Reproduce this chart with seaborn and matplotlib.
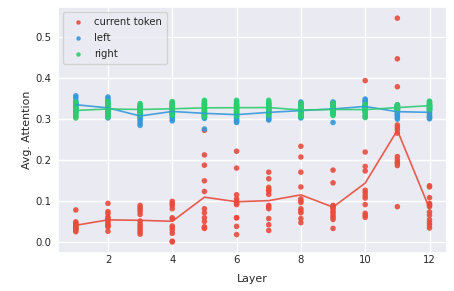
import pandas as pd
import matplotlib
matplotlib.use("Agg")
import matplotlib.pyplot as plt
import seaborn as sns

layers = list(range(1, 13))

current_token = [
    [0.079, 0.050, 0.047, 0.045, 0.043, 0.040, 0.038, 0.036, 0.034, 0.032, 0.030, 0.026],
    [0.095, 0.075, 0.070, 0.062, 0.058, 0.055, 0.050, 0.046, 0.042, 0.040, 0.038, 0.027],
    [0.090, 0.085, 0.080, 0.075, 0.068, 0.052, 0.045, 0.040, 0.035, 0.030, 0.025, 0.020],
    [0.100, 0.095, 0.090, 0.082, 0.060, 0.057, 0.040, 0.036, 0.030, 0.022, 0.003, 0.001],
    [0.273, 0.213, 0.188, 0.150, 0.124, 0.082, 0.072, 0.060, 0.051, 0.038, 0.036, 0.034],
    [0.222, 0.181, 0.116, 0.106, 0.101, 0.097, 0.095, 0.092, 0.060, 0.060, 0.039, 0.019],
    [0.171, 0.155, 0.134, 0.129, 0.125, 0.117, 0.090, 0.087, 0.082, 0.058, 0.043, 0.029],
    [0.234, 0.208, 0.171, 0.135, 0.106, 0.101, 0.097, 0.082, 0.077, 0.072, 0.058, 0.048],
    [0.176, 0.145, 0.090, 0.088, 0.085, 0.082, 0.076, 0.072, 0.066, 0.061, 0.056, 0.034],
    [0.394, 0.220, 0.185, 0.174, 0.127, 0.121, 0.114, 0.108, 0.092, 0.071, 0.066, 0.061],
    [0.546, 0.447, 0.379, 0.286, 0.280, 0.274, 0.266, 0.209, 0.201, 0.195, 0.193, 0.187, 0.087],
    [0.138, 0.135, 0.109, 0.095, 0.092, 0.090, 0.087, 0.074, 0.066, 0.055, 0.048, 0.042, 0.035],
]

left = [
    [0.357, 0.352, 0.345, 0.340, 0.338, 0.335, 0.333, 0.330, 0.328, 0.325, 0.322, 0.318],
    [0.354, 0.350, 0.345, 0.338, 0.332, 0.328, 0.325, 0.320, 0.316, 0.312, 0.308, 0.303],
    [0.330, 0.325, 0.320, 0.316, 0.312, 0.310, 0.307, 0.304, 0.300, 0.296, 0.290, 0.285],
    [0.340, 0.336, 0.332, 0.328, 0.325, 0.322, 0.318, 0.314, 0.310, 0.305, 0.300, 0.296],
    [0.338, 0.334, 0.328, 0.324, 0.320, 0.316, 0.312, 0.310, 0.307, 0.304, 0.302, 0.276],
    [0.335, 0.330, 0.325, 0.320, 0.316, 0.312, 0.308, 0.304, 0.300, 0.297, 0.294, 0.292],
    [0.338, 0.334, 0.330, 0.326, 0.322, 0.318, 0.314, 0.310, 0.306, 0.303, 0.300, 0.298],
    [0.342, 0.338, 0.334, 0.330, 0.326, 0.322, 0.318, 0.314, 0.311, 0.308, 0.305, 0.303],
    [0.342, 0.340, 0.337, 0.334, 0.331, 0.328, 0.325, 0.322, 0.319, 0.316, 0.313, 0.292],
    [0.349, 0.346, 0.343, 0.340, 0.336, 0.333, 0.330, 0.327, 0.324, 0.321, 0.318, 0.306],
    [0.335, 0.332, 0.329, 0.326, 0.323, 0.320, 0.317, 0.314, 0.311, 0.308, 0.304, 0.300],
    [0.334, 0.331, 0.328, 0.325, 0.322, 0.318, 0.315, 0.311, 0.308, 0.305, 0.303, 0.301],
]

right = [
    [0.342, 0.338, 0.334, 0.330, 0.326, 0.322, 0.318, 0.315, 0.312, 0.309, 0.306, 0.303],
    [0.343, 0.340, 0.337, 0.334, 0.330, 0.327, 0.324, 0.320, 0.317, 0.313, 0.309, 0.305],
    [0.338, 0.335, 0.332, 0.330, 0.327, 0.325, 0.322, 0.320, 0.318, 0.315, 0.312, 0.310],
    [0.343, 0.340, 0.336, 0.333, 0.330, 0.326, 0.323, 0.320, 0.317, 0.314, 0.312, 0.310],
    [0.346, 0.343, 0.340, 0.337, 0.334, 0.330, 0.327, 0.323, 0.319, 0.315, 0.311, 0.306],
    [0.346, 0.343, 0.340, 0.337, 0.334, 0.330, 0.327, 0.324, 0.320, 0.316, 0.312, 0.307],
    [0.346, 0.342, 0.339, 0.336, 0.333, 0.330, 0.327, 0.324, 0.321, 0.318, 0.314, 0.310],
    [0.339, 0.336, 0.333, 0.330, 0.327, 0.324, 0.321, 0.318, 0.315, 0.312, 0.309, 0.306],
    [0.339, 0.336, 0.334, 0.331, 0.328, 0.325, 0.322, 0.319, 0.316, 0.314, 0.311, 0.309],
    [0.336, 0.334, 0.332, 0.330, 0.328, 0.326, 0.324, 0.322, 0.319, 0.315, 0.310, 0.304],
    [0.335, 0.334, 0.333, 0.332, 0.330, 0.329, 0.327, 0.326, 0.325, 0.324, 0.323, 0.322],
    [0.344, 0.342, 0.340, 0.338, 0.336, 0.334, 0.332, 0.330, 0.328, 0.326, 0.324, 0.322],
]

series = {"current token": current_token, "left": left, "right": right}
colors = {"current token": "#e74c3c", "left": "#3498db", "right": "#2ecc71"}


def to_frame(series):
    rows = []
    for name, per_layer in series.items():
        for layer, vals in zip(layers, per_layer):
            for v in vals:
                rows.append({"Layer": layer, "Avg. Attention": v, "type": name})
    return pd.DataFrame(rows)


if __name__ == "__main__":
    df = to_frame(series)

    sns.set_theme(style="darkgrid", font_scale=0.66,
                  rc={"xtick.major.pad": 1, "ytick.major.pad": 4.5,
                      "xtick.major.size": 0, "ytick.major.size": 0,
                      "axes.labelpad": 3})
    fig, ax = plt.subplots(figsize=(4.54, 2.91), dpi=100)

    sns.scatterplot(data=df, x="Layer", y="Avg. Attention", hue="type",
                    palette=colors, s=16, linewidth=0, alpha=0.9, ax=ax)
    sns.lineplot(data=df, x="Layer", y="Avg. Attention", hue="type",
                 palette=colors, errorbar=None, linewidth=1.2, alpha=0.9,
                 legend=False, ax=ax)

    ax.legend(loc="upper left", title=None, markerscale=0.8,
              handletextpad=0.6, borderpad=0.5, labelspacing=0.6)
    ax.set_xlabel("Layer", labelpad=7)
    ax.set_ylabel("Avg. Attention")

    fig.subplots_adjust(left=0.128, right=0.985, top=0.976, bottom=0.13)
    fig.savefig("out.png", dpi=100)
